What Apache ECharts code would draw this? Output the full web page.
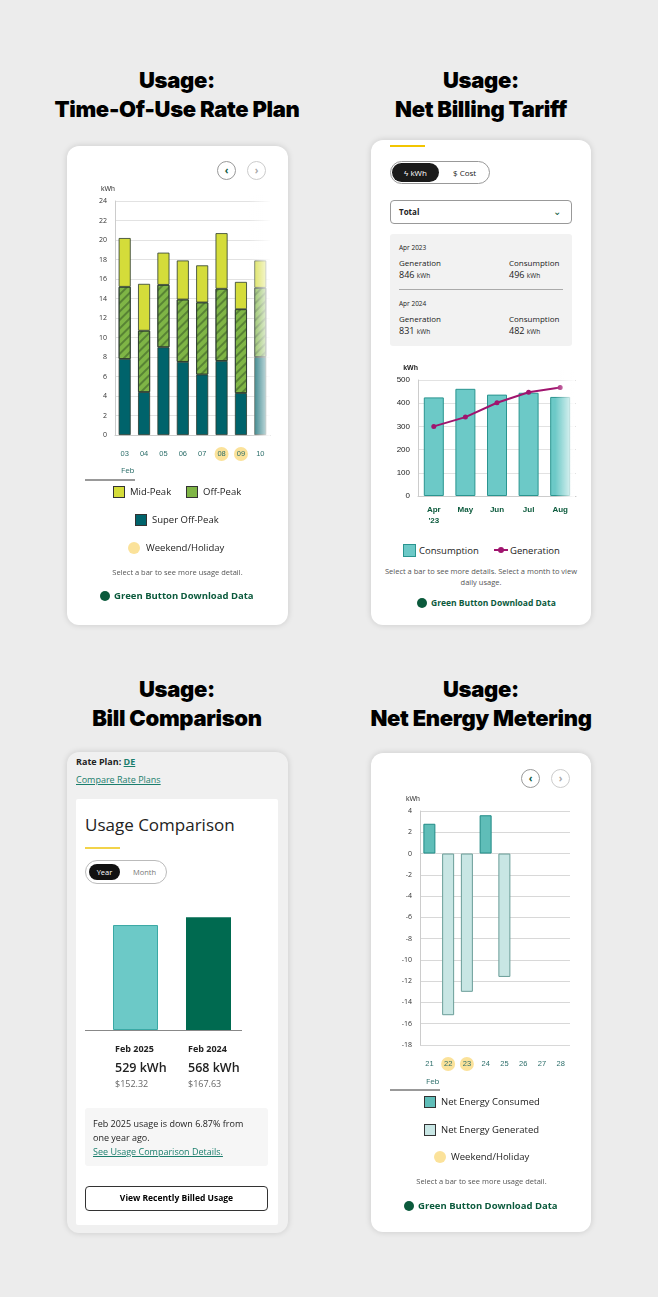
<!DOCTYPE html>
<html><head><meta charset="utf-8">
<script src="https://cdn.jsdelivr.net/npm/echarts@6/dist/echarts.min.js"></script>
<style>
body{margin:0;width:658px;height:1297px;background:#ececec;font-family:"Open Sans",sans-serif;position:relative;overflow:hidden}
.abs{position:absolute}
.title{position:absolute;width:300px;text-align:center;font-family:Inter,sans-serif;font-weight:900;font-size:22px;line-height:29px;color:#000;letter-spacing:-0.3px}
.card{position:absolute;background:#fff;border-radius:12px;box-shadow:0 0 6px rgba(0,0,0,0.15)}
.t{position:absolute;white-space:nowrap;color:#222}
.gb{position:absolute;font-weight:700;font-size:9.5px;color:#0b5a3c;white-space:nowrap}
.gb i{display:inline-block;width:10px;height:10px;border-radius:50%;background:#0b5a3c;vertical-align:-2px;margin-right:4px}
.nav{position:absolute;width:17px;height:17px;border-radius:50%;border:1px solid #999;font-size:10px;text-align:center;line-height:16px;color:#0b5a3c;font-weight:700}
.sq{position:absolute;width:10px;height:10px;border:1px solid #333}
.dot{position:absolute;width:12px;height:12px;border-radius:50%;background:#fbe29a}
.note{position:absolute;font-size:7.5px;color:#555;text-align:center}
</style></head><body>
<div class="title" style="left:27px;top:66px">Usage:<br>Time-Of-Use Rate Plan</div>
<div class="title" style="left:331px;top:66px">Usage:<br>Net Billing Tariff</div>
<div class="title" style="left:27px;top:675px">Usage:<br>Bill Comparison</div>
<div class="title" style="left:331px;top:675px">Usage:<br>Net Energy Metering</div>

<!-- Card 1 -->
<div class="card" style="left:67px;top:146px;width:221px;height:479px"></div>
<div class="nav" style="left:217px;top:161px">‹</div>
<div class="nav" style="left:247px;top:161px;color:#aaa;border-color:#ccc">›</div>
<div id="c1" class="abs" style="left:80px;top:180px;width:195px;height:290px"></div>
<div class="abs" style="left:248px;top:195px;width:22px;height:245px;background:linear-gradient(to right,rgba(255,255,255,0),rgba(255,255,255,0.9))"></div>
<div class="t" style="left:121px;top:464px;font-size:8px;color:#2c6e6a">Feb</div>
<div class="abs" style="left:85px;top:479px;width:50px;height:2px;background:#999"></div>
<div class="sq" style="left:113px;top:486px;background:#d4dc3a"></div>
<div class="t" style="left:130px;top:485px;font-size:9.5px">Mid-Peak</div>
<div class="sq" style="left:186px;top:486px;background:#7fb546"></div>
<div class="t" style="left:203px;top:485px;font-size:9.5px">Off-Peak</div>
<div class="sq" style="left:135px;top:514px;background:#00636b"></div>
<div class="t" style="left:152px;top:513px;font-size:9.5px">Super Off-Peak</div>
<div class="dot" style="left:128px;top:542px"></div>
<div class="t" style="left:146px;top:541px;font-size:9.5px">Weekend/Holiday</div>
<div class="note" style="left:70px;top:567px;width:215px">Select a bar to see more usage detail.</div>
<div class="gb" style="left:100px;top:589px"><i></i>Green Button Download Data</div>

<!-- Card 2 -->
<div class="card" style="left:371px;top:140px;width:220px;height:485px"></div>
<div class="abs" style="left:390px;top:145px;width:35px;height:2px;background:#f2c500"></div>
<div class="abs" style="left:390px;top:161px;width:100px;height:23px;border:1px solid #999;border-radius:12px;box-sizing:border-box"></div>
<div class="abs" style="left:392px;top:163px;width:47px;height:19px;background:#1a1a1a;border-radius:10px;color:#fff;font-size:8px;text-align:center;line-height:19px">ϟ kWh</div>
<div class="t" style="left:453px;top:167px;font-size:8px">$ Cost</div>
<div class="abs" style="left:390px;top:200px;width:182px;height:24px;border:1px solid #999;border-radius:4px;box-sizing:border-box"></div>
<div class="t" style="left:399px;top:206px;font-size:8px;font-weight:700">Total</div>
<div class="t" style="left:553px;top:204px;font-size:10px;color:#0b5a3c">⌄</div>
<div class="abs" style="left:390px;top:234px;width:182px;height:112px;background:#f2f2f2;border-radius:3px"></div>
<div class="t" style="left:399px;top:243px;font-size:6.5px">Apr 2023</div>
<div class="t" style="left:399px;top:257px;font-size:8px">Generation</div>
<div class="t" style="left:399px;top:268px;font-size:9px">846 <span style="font-size:6.5px">kWh</span></div>
<div class="t" style="left:509px;top:257px;font-size:8px">Consumption</div>
<div class="t" style="left:509px;top:268px;font-size:9px">496 <span style="font-size:6.5px">kWh</span></div>
<div class="abs" style="left:399px;top:289px;width:164px;height:1px;background:#aaa"></div>
<div class="t" style="left:399px;top:299px;font-size:6.5px">Apr 2024</div>
<div class="t" style="left:399px;top:313px;font-size:8px">Generation</div>
<div class="t" style="left:399px;top:324px;font-size:9px">831 <span style="font-size:6.5px">kWh</span></div>
<div class="t" style="left:509px;top:313px;font-size:8px">Consumption</div>
<div class="t" style="left:509px;top:324px;font-size:9px">482 <span style="font-size:6.5px">kWh</span></div>
<div id="c2" class="abs" style="left:380px;top:355px;width:205px;height:175px"></div>
<div class="abs" style="left:555px;top:370px;width:20px;height:130px;background:linear-gradient(to right,rgba(255,255,255,0),rgba(255,255,255,0.95))"></div>
<div class="abs" style="left:403px;top:544px;width:11px;height:11px;background:#6cc9c7;border:1px solid #2a9590"></div>
<div class="t" style="left:419px;top:544px;font-size:9.5px">Consumption</div>
<div class="abs" style="left:494px;top:549px;width:14px;height:2px;background:#a0146e"></div>
<div class="abs" style="left:498px;top:547px;width:6px;height:6px;border-radius:50%;background:#a0146e"></div>
<div class="t" style="left:510px;top:544px;font-size:9.5px">Generation</div>
<div class="note" style="left:380px;top:566px;width:202px;line-height:11px">Select a bar to see more details. Select a month to view daily usage.</div>
<div class="gb" style="left:417px;top:597px;font-size:8.5px"><i></i>Green Button Download Data</div>

<!-- Card 3 -->
<div class="card" style="left:67px;top:752px;width:221px;height:481px;background:#f0f0f0"></div>
<div class="t" style="left:76px;top:755px;font-size:9px;font-weight:700">Rate Plan: <span style="color:#1b7e6d;text-decoration:underline">DE</span></div>
<div class="t" style="left:76px;top:773px;font-size:9px;color:#1b7e6d;text-decoration:underline">Compare Rate Plans</div>
<div class="abs" style="left:76px;top:799px;width:202px;height:426px;background:#fff;border-radius:2px"></div>
<div class="t" style="left:85px;top:813px;font-size:17px">Usage Comparison</div>
<div class="abs" style="left:85px;top:847px;width:35px;height:2px;background:#f2d34a"></div>
<div class="abs" style="left:85px;top:860px;width:82px;height:24px;border:1px solid #bbb;border-radius:12px;box-sizing:border-box"></div>
<div class="abs" style="left:89px;top:864px;width:31px;height:16px;background:#111;border-radius:8px;color:#fff;font-size:7.5px;text-align:center;line-height:16px">Year</div>
<div class="t" style="left:133px;top:867px;font-size:7.5px;color:#777">Month</div>
<div id="c3" class="abs" style="left:80px;top:900px;width:180px;height:135px"></div>
<div class="abs" style="left:85px;top:1030px;width:157px;height:1px;background:#888"></div>
<div class="t" style="left:115px;top:1042px;font-size:9px;font-weight:700">Feb 2025</div>
<div class="t" style="left:188px;top:1042px;font-size:9px;font-weight:700">Feb 2024</div>
<div class="t" style="left:115px;top:1059px;font-size:12.5px;font-weight:600">529 kWh</div>
<div class="t" style="left:188px;top:1059px;font-size:12.5px;font-weight:600">568 kWh</div>
<div class="t" style="left:115px;top:1077px;font-size:9px;color:#666">$152.32</div>
<div class="t" style="left:188px;top:1077px;font-size:9px;color:#666">$167.63</div>
<div class="abs" style="left:85px;top:1108px;width:183px;height:58px;background:#f6f6f6;border-radius:3px"></div>
<div class="t" style="left:93px;top:1117px;font-size:9px;line-height:14px">Feb 2025 usage is down 6.87% from<br>one year ago.<br><span style="color:#1b7e6d;text-decoration:underline">See Usage Comparison Details.</span></div>
<div class="abs" style="left:85px;top:1186px;width:183px;height:25px;border:1.5px solid #333;border-radius:4px;box-sizing:border-box;font-size:8.5px;font-weight:700;text-align:center;line-height:22px">View Recently Billed Usage</div>

<!-- Card 4 -->
<div class="card" style="left:371px;top:753px;width:220px;height:479px"></div>
<div class="nav" style="left:521px;top:769px">‹</div>
<div class="nav" style="left:551px;top:769px;color:#aaa;border-color:#ccc">›</div>
<div id="c4" class="abs" style="left:380px;top:780px;width:205px;height:300px"></div>
<div class="t" style="left:426px;top:1075px;font-size:8px;color:#2c6e6a">Feb</div>
<div class="abs" style="left:390px;top:1089px;width:50px;height:2px;background:#999"></div>
<div class="sq" style="left:424px;top:1096px;background:#5fbdb8"></div>
<div class="t" style="left:441px;top:1095px;font-size:9.5px">Net Energy Consumed</div>
<div class="sq" style="left:424px;top:1124px;background:#c8e6e4"></div>
<div class="t" style="left:441px;top:1123px;font-size:9.5px">Net Energy Generated</div>
<div class="dot" style="left:434px;top:1151px"></div>
<div class="t" style="left:451px;top:1150px;font-size:9.5px">Weekend/Holiday</div>
<div class="note" style="left:374px;top:1176px;width:215px">Select a bar to see more usage detail.</div>
<div class="gb" style="left:404px;top:1199px"><i></i>Green Button Download Data</div>

<script>
// Chart 1: Time-Of-Use
const touDays = ['03','04','05','06','07','08','09','10'];
const touWeekend = ['08','09'];
const superOffPeak = [7.8,4.4,9.0,7.5,6.2,7.6,4.3,8.0];
const offPeak = [7.4,6.3,6.4,6.4,7.4,7.4,8.6,7.1];
const midPeak = [5.0,4.8,3.3,4.0,3.8,5.7,2.8,2.8];
const touTicks = [0,24,2];
// Chart 2: Net Billing
const nbMonths = ['Apr\n\'23','May','Jun','Jul','Aug'];
const consumption = [425,462,437,445,427];
const generation = [300,340,402,447,468];
const nbTicks = [0,500,100];
// Chart 3: Bill comparison
const billLabels = ['Feb 2025','Feb 2024'];
const billKwh = [529,568];
// Chart 4: Net Energy Metering
const nemDays = ['21','22','23','24','25','26','27','28'];
const nemWeekend = ['22','23'];
const netConsumed = [2.8,null,null,3.6,null,null,null,null];
const netGenerated = [null,-15.2,-13.0,null,-11.6,null,null,null];
const nemTicks = [-18,4,2];

const smallAxis = {color:'#333',fontSize:7,fontFamily:'Open Sans'};
function dayLabel(weekend){
  return {interval:0,margin:12,formatter:v=>weekend.includes(v)?'{w|'+v+'}':'{n|'+v+'}',
    rich:{n:{color:'#2c6e6a',fontSize:7.5,width:14,height:14,align:'center'},
          w:{color:'#2c6e6a',fontSize:7.5,width:14,height:14,align:'center',backgroundColor:'#fbe29a',borderRadius:7}}};
}
const border = {borderColor:'#2b3b2e',borderWidth:0.8};

const c1 = echarts.init(document.getElementById('c1'));
c1.setOption({animation:false,
  grid:{left:35,top:21,width:155,height:234},
  xAxis:{type:'category',data:touDays,axisLine:{lineStyle:{color:'#ccc'}},axisTick:{show:false},axisLabel:dayLabel(touWeekend)},
  yAxis:{type:'value',min:touTicks[0],max:touTicks[1],interval:touTicks[2],name:'kWh',nameGap:8,nameTextStyle:{fontSize:7,color:'#333',align:'right'},
    axisLine:{show:true,lineStyle:{color:'#ccc'}},axisLabel:smallAxis,splitLine:{lineStyle:{color:'#e2e2e2'}}},
  series:[
    {type:'bar',stack:'a',data:superOffPeak,barWidth:12,itemStyle:Object.assign({color:'#00636b'},border)},
    {type:'bar',stack:'a',data:offPeak,itemStyle:Object.assign({color:'#7fb546',decal:{symbol:'rect',symbolSize:1,dashArrayX:[1,0],dashArrayY:[1.2,4],rotation:-Math.PI/4,color:'rgba(40,70,30,0.45)'}},border)},
    {type:'bar',stack:'a',data:midPeak,itemStyle:Object.assign({color:'#d4dc3a'},border)}
  ]});

const c2 = echarts.init(document.getElementById('c2'));
c2.setOption({animation:false,
  grid:{left:38,top:25,width:158,height:116},
  xAxis:{type:'category',data:nbMonths,axisLine:{lineStyle:{color:'#ccc'}},axisTick:{show:false},
    axisLabel:{interval:0,color:'#0b5a3c',fontWeight:'bold',fontSize:8,margin:8,lineHeight:11}},
  yAxis:{type:'value',min:nbTicks[0],max:nbTicks[1],interval:nbTicks[2],name:'kWh',nameGap:8,nameTextStyle:{fontSize:7,color:'#222',align:'right',fontWeight:'bold'},
    axisLine:{show:true,lineStyle:{color:'#ccc'}},axisLabel:{color:'#222',fontSize:8},splitLine:{lineStyle:{color:'#e2e2e2'}}},
  series:[
    {type:'bar',data:consumption,barWidth:20,itemStyle:{color:'#6cc9c7',borderColor:'#2a9590',borderWidth:1}},
    {type:'line',data:generation,symbol:'circle',symbolSize:5,itemStyle:{color:'#a0146e'},lineStyle:{color:'#a0146e',width:2}}
  ]});

const c3 = echarts.init(document.getElementById('c3'));
c3.setOption({animation:false,
  grid:{left:19,top:5,width:146,height:125},
  xAxis:{type:'category',data:billLabels,axisLine:{show:false},axisTick:{show:false},axisLabel:{show:false}},
  yAxis:{type:'value',min:0,max:630,show:false,splitLine:{show:false}},
  series:[{type:'bar',barWidth:45,data:[{value:billKwh[0],itemStyle:{color:'#6cc9c7',borderColor:'#3aa9a5',borderWidth:1}},{value:billKwh[1],itemStyle:{color:'#006a50'}}]}]});

const c4 = echarts.init(document.getElementById('c4'));
c4.setOption({animation:false,
  grid:{left:40,top:31,width:150,height:234},
  xAxis:{type:'category',data:nemDays,axisLine:{show:false},axisTick:{show:false},axisLabel:dayLabel(nemWeekend)},
  yAxis:{type:'value',min:nemTicks[0],max:nemTicks[1],interval:nemTicks[2],name:'kWh',nameGap:8,nameTextStyle:{fontSize:7,color:'#333',align:'right'},
    axisLine:{show:true,lineStyle:{color:'#ccc'}},axisLabel:smallAxis,splitLine:{lineStyle:{color:'#d8d8d8'}}},
  series:[
    {type:'bar',stack:'n',data:netConsumed,barWidth:12,itemStyle:{color:'#5fbdb8',borderColor:'#1f8a85',borderWidth:1}},
    {type:'bar',stack:'n',data:netGenerated,itemStyle:{color:'#c8e6e4',borderColor:'#6a9e99',borderWidth:1}}
  ]});
</script>
</body></html>
